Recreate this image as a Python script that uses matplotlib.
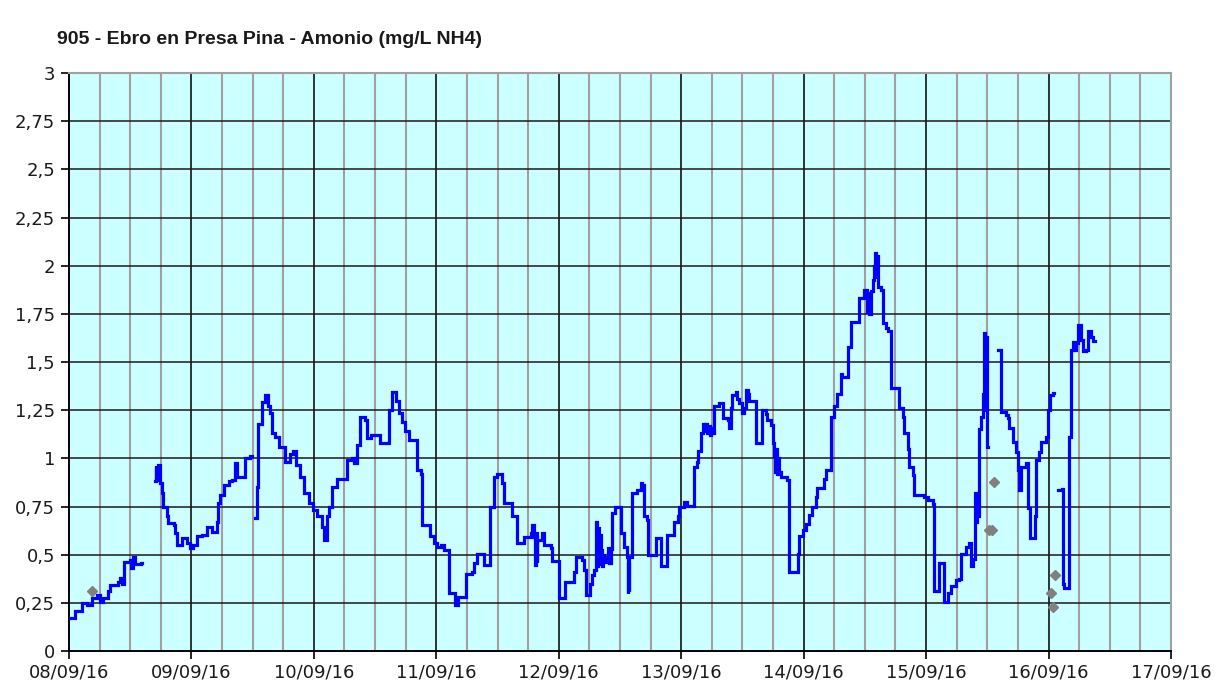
import numpy as np
import matplotlib
matplotlib.use("Agg")
import matplotlib.pyplot as plt
from matplotlib.ticker import MultipleLocator, FixedLocator

title = "905 - Ebro en Presa Pina - Amonio (mg/L NH4)"
x_labels = ["08/09/16", "09/09/16", "10/09/16", "11/09/16", "12/09/16",
            "13/09/16", "14/09/16", "15/09/16", "16/09/16", "17/09/16"]
y_ticks = [0, 0.25, 0.5, 0.75, 1, 1.25, 1.5, 1.75, 2, 2.25, 2.5, 2.75, 3]

# hours since 08/09/16 00:00 and NH4 values (mg/L); NaN marks data gaps
hours = [
    0.2, 1.2, 2.6, 3.5, 4.5, 5.5, 6.1, 6.7, 7.7, 8.0, 9.6, 10.0, 10.4, 10.8,
    12.0, 12.2, 12.6, 13.0, 14.1, 14.4,
    16.9, 17.0, 17.1, 17.2, 17.5, 17.9, 18.2, 18.5, 19.2, 19.5, 20.5, 20.8,
    21.1, 22.1, 23.1, 23.7, 24.4, 25.1, 26.0, 27.0, 28.0, 29.0, 29.3, 29.6,
    30.3, 31.3, 31.9, 32.6, 32.9, 34.5, 35.5, 35.8,
    36.5, 36.8, 37.1, 37.8, 38.5, 39.1, 39.4, 39.8, 40.4, 41.1, 42.4, 43.4,
    44.0, 44.4, 45.3, 46.0, 47.0, 47.9, 48.6, 49.6, 49.9, 50.6, 50.9, 51.6,
    52.5, 54.5, 55.5, 55.8, 56.5, 57.0, 57.1, 58.1, 58.4, 59.1, 61.0, 62.7,
    63.3, 64.0, 64.6, 65.3, 65.9, 66.6, 68.2, 68.9, 69.2, 70.8, 71.5, 72.2,
    73.0, 73.5, 74.4, 75.7, 76.3, 77.9, 79.0, 79.3, 80.0, 81.3, 82.6, 83.3,
    83.9, 84.9, 85.2, 86.9, 87.9, 89.2, 90.5, 90.8, 91.1, 91.3, 91.5, 91.7,
    91.8, 92.8, 93.1, 94.4, 94.7, 96.0, 97.3, 99.0, 99.3, 100.6, 101.0, 101.3,
    102.2, 102.6, 102.9, 103.2, 103.4, 103.6, 103.8, 104.0, 104.2, 104.4,
    104.6, 104.8, 105.2, 105.6, 105.8, 106.2, 106.5, 107.1, 107.8, 108.1,
    108.8, 109.4, 109.5, 109.6, 109.7, 109.8, 110.4, 111.4, 112.1, 112.4,
    112.7, 113.2, 113.4, 115.0, 116.0, 117.3, 118.6, 119.3, 119.6, 120.6,
    121.2, 122.5, 123.0, 123.2, 123.8, 124.2, 124.5, 124.7, 125.0, 125.3,
    125.6, 125.9, 126.1, 126.4, 127.4, 128.1, 129.1, 129.4, 129.7, 130.0,
    130.7, 131.0, 131.3, 132.0, 132.3, 132.7, 133.1, 133.3, 134.6, 135.9,
    136.6, 136.9, 137.6, 137.9, 138.2, 138.4, 138.6, 138.8, 139.0, 139.2,
    139.5, 140.8, 141.2, 142.8, 143.1, 143.8, 144.4, 145.1, 145.7, 146.4,
    146.7, 148.0, 148.4, 149.3, 150.0, 150.6, 151.3, 151.6, 152.6, 153.3,
    154.9, 155.9, 156.5, 156.7, 156.9, 157.2, 157.5, 157.8, 158.0, 158.2,
    158.3, 158.5, 159.2, 159.5, 160.1, 160.6, 161.1, 162.7, 163.4, 163.7,
    164.4, 164.7, 165.4, 165.7, 167.6, 168.3, 169.3, 169.5, 169.6, 170.6,
    171.6, 172.2, 172.9, 173.9, 174.5, 174.8, 175.8, 176.5, 176.8, 177.2,
    177.5, 177.7, 177.9, 178.1, 178.4, 178.8, 179.1, 179.4, 179.6, 179.8,
    180.0, 180.2,
    182.1, 182.7, 183.7, 184.0, 184.3, 185.0, 185.6, 186.0, 186.3, 186.6,
    187.6, 187.9, 188.3, 189.4, 189.6, 190.2, 190.6, 191.5, 191.9, 192.2,
    192.8, 193.0,
    193.8, 194.7, 194.8, 195.1, 196.1, 196.4, 196.8, 197.1, 197.4, 197.8,
    198.4, 198.8, 199.4, 199.8, 200.4, 200.7, 201.0, 201.2,
]
nh4 = [
    0.17, 0.21, 0.25, 0.24, 0.275, 0.29, 0.255, 0.275, 0.31, 0.34, 0.36, 0.38,
    0.35, 0.46, 0.47, 0.43, 0.49, 0.45, 0.455, np.nan,
    0.88, 0.96, 0.89, 0.95, 0.965, 0.87, 0.82, 0.75, 0.70, 0.665, 0.655, 0.61,
    0.55, 0.585, 0.56, 0.535, 0.55, 0.595, 0.60, 0.645, 0.62, 0.67, 0.77, 0.81,
    0.86, 0.88, 0.885, 0.975, 0.905, 1.0, 1.01, np.nan,
    0.69, 0.85, 1.18, 1.29, 1.33, 1.27, 1.235, 1.13, 1.11, 1.06, 0.98, 1.02,
    1.04, 0.965, 0.905, 0.82, 0.77, 0.73, 0.70, 0.645, 0.575, 0.70, 0.75, 0.85,
    0.895, 0.99, 1.0, 0.975, 1.07, 1.12, 1.215, 1.20, 1.105, 1.12, 1.08, 1.25,
    1.345, 1.30, 1.235, 1.19, 1.14, 1.095, 0.94, 0.92, 0.655, 0.595, 0.56, 0.54,
    0.55, 0.525, 0.30, 0.24, 0.28, 0.40, 0.41, 0.455, 0.505, 0.445, 0.75, 0.905,
    0.92, 0.87, 0.77, 0.70, 0.56, 0.59, 0.61, 0.655, 0.59, 0.445, 0.61, 0.46,
    0.575, 0.61, 0.55, 0.535, 0.465, 0.275, 0.36, 0.41, 0.49, 0.47, 0.42, 0.29,
    0.35, 0.395, 0.42, 0.67, 0.44, 0.64, 0.45, 0.60, 0.525, 0.44,
    0.50, 0.46, 0.49, 0.535, 0.455, 0.53, 0.715, 0.75, 0.745, 0.61,
    0.54, 0.49, 0.30, 0.45, 0.31, 0.49, 0.82, 0.835, 0.87, 0.86,
    0.70, 0.68, 0.50, 0.585, 0.44, 0.60, 0.67, 0.70, 0.75, 0.775,
    0.755, 0.955, 0.98, 1.04, 1.13, 1.18, 1.14, 1.18, 1.13, 1.17,
    1.12, 1.16, 1.13, 1.27, 1.285, 1.21, 1.20, 1.155, 1.26, 1.33,
    1.345, 1.31, 1.285, 1.235, 1.26, 1.355, 1.335, 1.30, 1.08, 1.25,
    1.23, 1.20, 1.175, 1.08, 1.01, 0.93, 1.05, 0.92, 1.0, 0.93,
    0.905, 0.89, 0.41, 0.505, 0.595, 0.63, 0.66, 0.705, 0.75, 0.80,
    0.845, 0.895, 0.94, 1.215, 1.27, 1.335, 1.44, 1.42, 1.58, 1.71,
    1.83, 1.875, 1.76, 1.86, 1.75, 1.87, 1.925, 2.00, 2.065, 1.94,
    2.05, 1.89, 1.875, 1.70, 1.675, 1.66, 1.365, 1.26, 1.215, 1.13,
    1.05, 0.955, 0.915, 0.81, 0.80, 0.785, 0.765, 0.635, 0.31, 0.455,
    0.255, 0.30, 0.335, 0.37, 0.375, 0.505, 0.54, 0.56, 0.44, 0.48,
    0.82, 0.67, 0.80, 0.70, 1.15, 1.215, 1.335, 1.65, 1.25, 1.63,
    1.06, np.nan,
    1.56, 1.24, 1.225, 1.21, 1.155, 1.085, 1.035, 0.94, 0.835, 0.955,
    0.975, 0.74, 0.585, 0.70, 0.99, 1.035, 1.085, 1.11, 1.25, 1.33,
    1.34, np.nan,
    0.835, 0.84, 0.35, 0.325, 1.11, 1.56, 1.605, 1.56, 1.60, 1.69,
    1.615, 1.555, 1.56, 1.66, 1.63, 1.61, 1.61, np.nan,
]

# isolated grey samples (lab values)
lab_hours = [4.5, 180.4, 180.9, 181.3, 192.5, 192.8, 193.2]
lab_nh4 = [0.31, 0.628, 0.628, 0.875, 0.30, 0.23, 0.395]

fig = plt.figure(figsize=(12.17, 6.86), dpi=100)
fig.patch.set_facecolor("white")
ax = fig.add_axes([69 / 1217, 1 - 651 / 686, (1171 - 69) / 1217, (651 - 73) / 686])
ax.set_facecolor("#ccffff")

ax.set_xlim(0, 216)
ax.set_ylim(0, 3)

ax.xaxis.set_major_locator(FixedLocator([24 * i for i in range(len(x_labels))]))
ax.set_xticklabels(x_labels)
ax.xaxis.set_minor_locator(MultipleLocator(6))
ax.set_yticks(y_ticks)
ax.set_yticklabels([("%g" % v).replace(".", ",") for v in y_ticks])

for h in range(6, 216, 6):
    if h % 24:
        ax.axvline(h, color="#a0a0a0", lw=1.5, zorder=1)
for h in range(24, 216, 24):
    ax.axvline(h, color="#000000", lw=1.1, zorder=1.1)
for v in y_ticks[1:-1]:
    ax.axhline(v, color="#1a1a1a", lw=1.1, zorder=1.1)

ax.plot(hours, nh4, drawstyle="steps-post", color="#0000ff", lw=2.3,
        zorder=3, solid_joinstyle="miter")
ax.plot(lab_hours, lab_nh4, linestyle="none", marker="D", ms=5.5,
        color="#808080", zorder=4)

for s in ["left", "bottom"]:
    ax.spines[s].set_color("black")
    ax.spines[s].set_linewidth(1.4)
for s in ["top", "right"]:
    ax.spines[s].set_color("#a0a0a0")
    ax.spines[s].set_linewidth(1.5)

ax.tick_params(axis="both", which="major", labelsize=13, colors="black",
               length=6, width=1.2, labelcolor="#1a1a1a")
ax.tick_params(axis="x", which="minor", length=0)
ax.tick_params(axis="x", pad=3)
ax.tick_params(axis="y", pad=4)

fig.text(57 / 1217, 1 - 40 / 686, title, fontsize=14, fontweight="bold",
         family="Liberation Sans", va="center", ha="left", color="#1a1a1a")

fig.savefig("out.png", dpi=100, facecolor="white")
